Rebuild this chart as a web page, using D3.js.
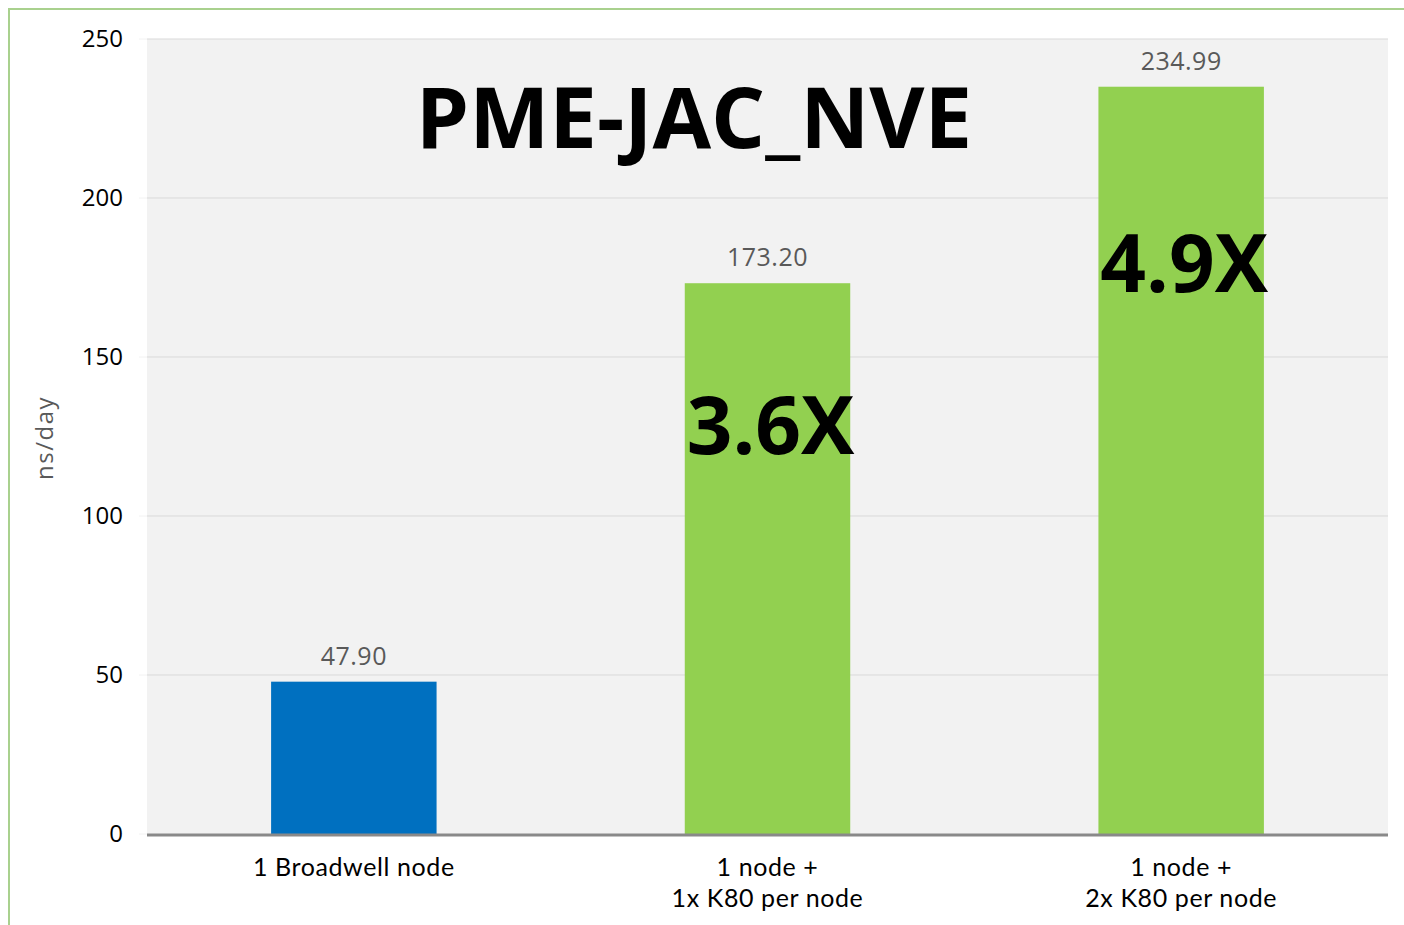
<!DOCTYPE html>
<html>
<head>
<meta charset="utf-8">
<script src="https://cdn.jsdelivr.net/npm/d3@7"></script>
<style>
  body { margin: 0; background: #fff; }
  text { font-family: "Open Sans", "Noto Sans", sans-serif; }
</style>
</head>
<body>
<svg width="1404" height="925"></svg>
<script>
var categories = [["1 Broadwell node"], ["1 node +", "1x K80 per node"], ["1 node +", "2x K80 per node"]];
var values = [47.90, 173.20, 234.99];
var barColors = ["#0070c0", "#92d050", "#92d050"];
var speedups = ["", "3.6X", "4.9X"];
var yTicks = [0, 50, 100, 150, 200, 250];

var svg = d3.select("svg"),
    margin = {left: 147, right: 16, top: 39, bottom: 91},
    width = +svg.attr("width") - margin.left - margin.right,
    height = +svg.attr("height") - margin.top - margin.bottom;

// green frame on left and top
svg.append("path")
    .attr("d", "M9,925V9H1404")
    .attr("fill", "none")
    .attr("stroke", "#a9d18e")
    .attr("stroke-width", 2);

var g = svg.append("g").attr("transform", "translate(" + margin.left + "," + margin.top + ")");

var x = d3.scaleBand()
    .domain(d3.range(values.length))
    .range([0, width])
    .paddingInner(0.6)
    .paddingOuter(0.3);

var y = d3.scaleLinear().domain([0, 250]).range([height, 0]);

g.append("rect")
    .attr("width", width)
    .attr("height", height)
    .attr("fill", "#f2f2f2");

// gridlines
g.selectAll(".grid")
    .data(yTicks.slice(1))
    .enter().append("line")
    .attr("x1", 0).attr("x2", width)
    .attr("y1", function(d) { return y(d); })
    .attr("y2", function(d) { return y(d); })
    .attr("stroke", "#d9d9d9")
    .attr("stroke-width", 1);
g.selectAll(".gridstub")
    .data(yTicks)
    .enter().append("line")
    .attr("x1", -8).attr("x2", 0)
    .attr("y1", function(d) { return y(d); })
    .attr("y2", function(d) { return y(d); })
    .attr("stroke", "#f2f2f2");

// y axis labels
var yAxis = d3.axisLeft(y).tickValues(yTicks).tickSize(0).tickPadding(24);
var ya = g.append("g").call(yAxis);
ya.select(".domain").remove();
ya.selectAll("text")
    .style("font-family", "'Open Sans', sans-serif")
    .style("font-size", "24px")
    .attr("fill", "#000");

// bars
g.selectAll(".bar")
    .data(values)
    .enter().append("rect")
    .attr("x", function(d, i) { return x(i); })
    .attr("y", function(d) { return y(d); })
    .attr("width", x.bandwidth())
    .attr("height", function(d) { return height - y(d); })
    .attr("fill", function(d, i) { return barColors[i]; });

// value labels
g.selectAll(".val")
    .data(values)
    .enter().append("text")
    .attr("x", function(d, i) { return x(i) + x.bandwidth() / 2; })
    .attr("y", function(d) { return y(d) - 17; })
    .attr("text-anchor", "middle")
    .attr("fill", "#595959")
    .style("font-size", "25px")
    .style("letter-spacing", "0.5px")
    .text(function(d) { return d.toFixed(2); });

// baseline
g.append("line")
    .attr("x1", 0).attr("x2", width)
    .attr("y1", height + 1).attr("y2", height + 1)
    .attr("stroke", "#898989")
    .attr("stroke-width", 3);

// category labels, one text per line
categories.forEach(function(lines, i) {
    lines.forEach(function(line, j) {
        g.append("text")
            .attr("x", x(i) + x.bandwidth() / 2)
            .attr("y", height + 42 + j * 31)
            .attr("text-anchor", "middle")
            .attr("fill", "#000")
            .style("font-family", "Lato, sans-serif")
            .style("font-size", "25px")
            .style("letter-spacing", "0.6px")
            .text(line);
    });
});

// speedup labels, placed inside the bars
var speedOffset = [0, 171, 205];
g.selectAll(".speed")
    .data(values)
    .enter().append("text")
    .attr("x", function(d, i) { return x(i) + x.bandwidth() / 2 + 3; })
    .attr("y", function(d, i) { return y(d) + speedOffset[i]; })
    .attr("text-anchor", "middle")
    .attr("fill", "#000")
    .style("font-size", "80px")
    .style("font-weight", "bold")
    .text(function(d, i) { return speedups[i]; });

// title
g.append("text")
    .attr("x", 694 - margin.left)
    .attr("y", 148 - margin.top)
    .attr("text-anchor", "middle")
    .style("font-size", "85px")
    .style("font-weight", "bold")
    .attr("fill", "#000")
    .text("PME-JAC_NVE");

// y axis title
svg.append("text")
    .attr("transform", "translate(53," + 438 + ") rotate(-90)")
    .attr("text-anchor", "middle")
    .attr("fill", "#595959")
    .style("font-size", "24px")
    .style("letter-spacing", "1.5px")
    .text("ns/day");
</script>
</body>
</html>
